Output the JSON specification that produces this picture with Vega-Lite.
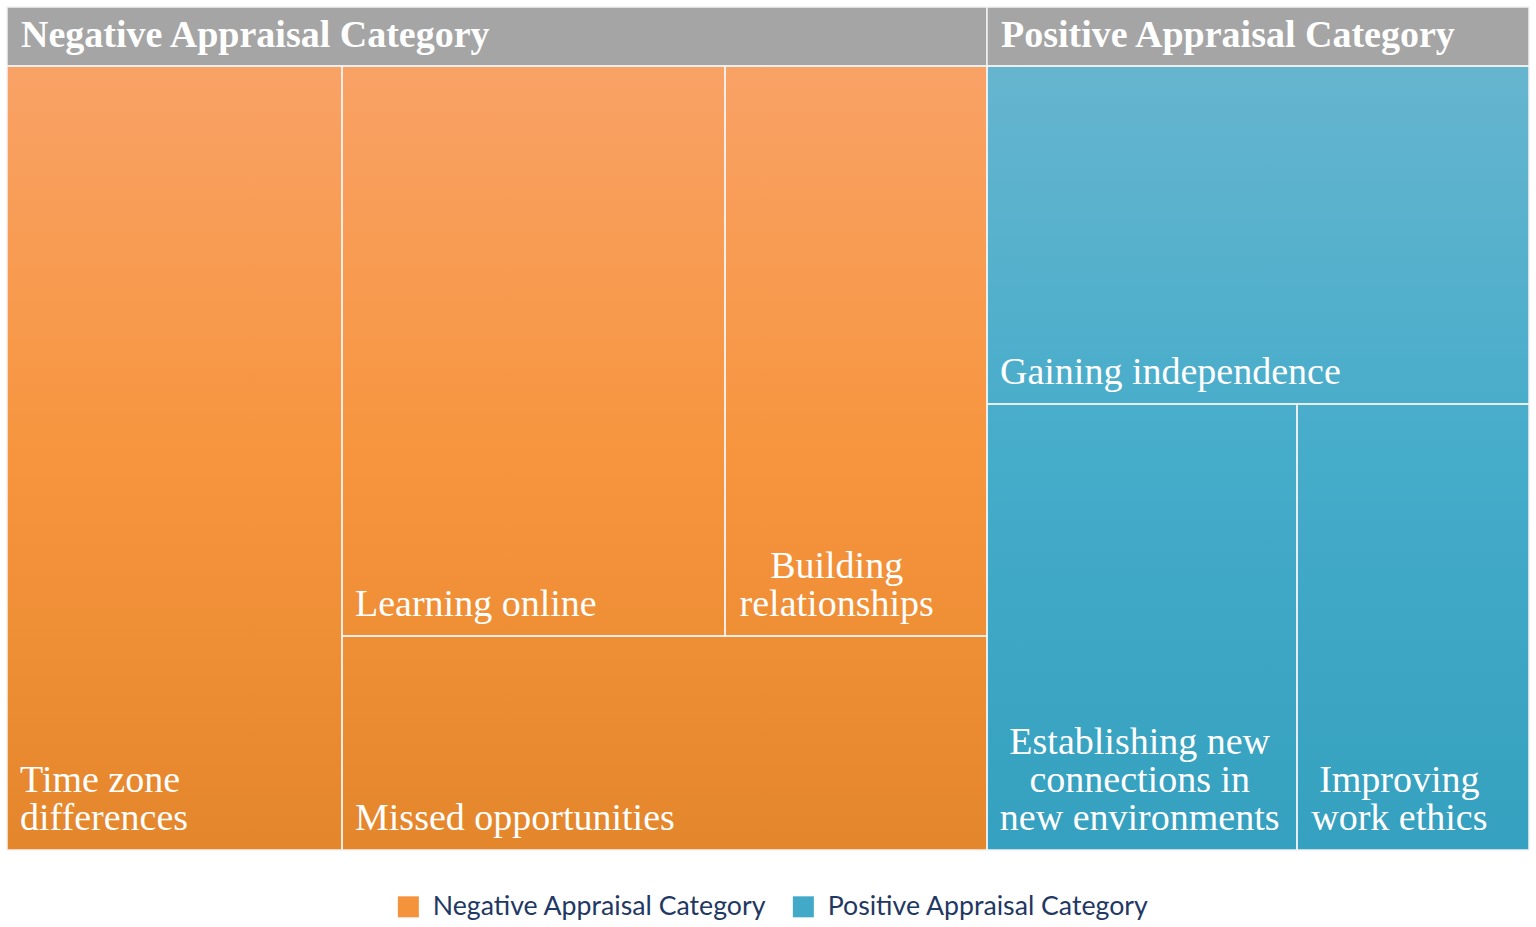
{
  "$schema": "https://vega.github.io/schema/vega-lite/v6.json",
  "width": 1522,
  "height": 843,
  "autosize": {"type": "none"},
  "padding": {"left": 7, "top": 7, "right": 7, "bottom": 77},
  "background": "white",
  "config": {"view": {"stroke": null}},
  "datasets": {
    "cells": [
      {"category": "Negative Appraisal Category", "label": "Time zone\ndifferences", "x0": 0, "x1": 335, "y0": 59, "y1": 843},
      {"category": "Negative Appraisal Category", "label": "Learning online", "x0": 335, "x1": 718, "y0": 59, "y1": 629},
      {"category": "Negative Appraisal Category", "label": "Building\nrelationships", "x0": 718, "x1": 980, "y0": 59, "y1": 629},
      {"category": "Negative Appraisal Category", "label": "Missed opportunities", "x0": 335, "x1": 980, "y0": 629, "y1": 843},
      {"category": "Positive Appraisal Category", "label": "Gaining independence", "x0": 980, "x1": 1522, "y0": 59, "y1": 397},
      {"category": "Positive Appraisal Category", "label": "Establishing new\nconnections in\nnew environments", "x0": 980, "x1": 1290, "y0": 397, "y1": 843},
      {"category": "Positive Appraisal Category", "label": "Improving\nwork ethics", "x0": 1290, "x1": 1522, "y0": 397, "y1": 843}
    ],
    "groups": [
      {"category": "Negative Appraisal Category", "x0": 0, "x1": 980, "y0": 0, "y1": 59},
      {"category": "Positive Appraisal Category", "x0": 980, "x1": 1522, "y0": 0, "y1": 59}
    ]
  },
  "layer": [
    {
      "data": {"name": "cells"},
      "transform": [
        {"filter": "datum.category === 'Negative Appraisal Category'"},
        {"aggregate": [
          {"op": "min", "field": "x0", "as": "bx0"},
          {"op": "max", "field": "x1", "as": "bx1"},
          {"op": "min", "field": "y0", "as": "by0"},
          {"op": "max", "field": "y1", "as": "by1"}
        ], "groupby": ["category"]}
      ],
      "mark": {"type": "rect", "fill": {"gradient": "linear", "x1": 0, "y1": 0, "x2": 0, "y2": 1, "stops": [
        {"offset": 0, "color": "#F9A266"},
        {"offset": 0.5, "color": "#F7953E"},
        {"offset": 1, "color": "#E4862B"}
      ]}},
      "encoding": {
        "x": {"field": "bx0", "type": "quantitative", "scale": {"domain": [0, 1522], "nice": false, "zero": false}, "axis": null},
        "x2": {"field": "bx1"},
        "y": {"field": "by0", "type": "quantitative", "scale": {"domain": [0, 843], "nice": false, "zero": false, "reverse": true}, "axis": null},
        "y2": {"field": "by1"}
      }
    },
    {
      "data": {"name": "cells"},
      "transform": [
        {"filter": "datum.category === 'Positive Appraisal Category'"},
        {"aggregate": [
          {"op": "min", "field": "x0", "as": "bx0"},
          {"op": "max", "field": "x1", "as": "bx1"},
          {"op": "min", "field": "y0", "as": "by0"},
          {"op": "max", "field": "y1", "as": "by1"}
        ], "groupby": ["category"]}
      ],
      "mark": {"type": "rect", "fill": {"gradient": "linear", "x1": 0, "y1": 0, "x2": 0, "y2": 1, "stops": [
        {"offset": 0, "color": "#66B5CF"},
        {"offset": 0.5, "color": "#45ACCA"},
        {"offset": 1, "color": "#35A0BF"}
      ]}},
      "encoding": {
        "x": {"field": "bx0", "type": "quantitative", "scale": {"domain": [0, 1522], "nice": false, "zero": false}, "axis": null},
        "x2": {"field": "bx1"},
        "y": {"field": "by0", "type": "quantitative", "scale": {"domain": [0, 843], "nice": false, "zero": false, "reverse": true}, "axis": null},
        "y2": {"field": "by1"}
      }
    },
    {
      "data": {"name": "groups"},
      "mark": {"type": "rect", "fill": "#A5A5A5", "stroke": "#F2F2F2", "strokeWidth": 1.5},
      "encoding": {
        "x": {"field": "x0", "type": "quantitative", "scale": {"domain": [0, 1522], "nice": false, "zero": false}, "axis": null},
        "x2": {"field": "x1"},
        "y": {"field": "y0", "type": "quantitative", "scale": {"domain": [0, 843], "nice": false, "zero": false, "reverse": true}, "axis": null},
        "y2": {"field": "y1"}
      }
    },
    {
      "data": {"name": "cells"},
      "mark": {"type": "rect", "fillOpacity": 0, "stroke": "#F2F2F2", "strokeWidth": 1.5},
      "encoding": {
        "x": {"field": "x0", "type": "quantitative", "scale": {"domain": [0, 1522], "nice": false, "zero": false}, "axis": null},
        "x2": {"field": "x1"},
        "y": {"field": "y0", "type": "quantitative", "scale": {"domain": [0, 843], "nice": false, "zero": false, "reverse": true}, "axis": null},
        "y2": {"field": "y1"},
        "color": {
          "field": "category",
          "type": "nominal",
          "scale": {"domain": ["Negative Appraisal Category", "Positive Appraisal Category"], "range": ["#F5933D", "#42AAC8"]},
          "legend": {
            "orient": "none",
            "legendX": 388,
            "legendY": 886,
            "direction": "horizontal",
            "title": null,
            "padding": 0,
            "symbolType": "square",
            "symbolSize": 441,
            "symbolStrokeWidth": 0,
            "symbolOpacity": 1,
            "labelFont": "Lato",
            "labelFontSize": 26.7,
            "labelColor": "#1F3864",
            "labelOffset": 11,
            "labelLimit": 500,
            "columnPadding": 23,
            "encode": {"symbols": {"update": {"fillOpacity": {"value": 1}, "opacity": {"value": 1}, "stroke": {"value": "transparent"}}}}
          }
        }
      }
    },
    {
      "data": {"name": "groups"},
      "mark": {"type": "text", "font": "Liberation Serif", "fontSize": 38, "fontWeight": "bold", "fill": "white", "align": "left", "baseline": "alphabetic", "dx": 14, "dy": -19},
      "encoding": {
        "x": {"field": "x0", "type": "quantitative", "scale": {"domain": [0, 1522], "nice": false, "zero": false}, "axis": null},
        "y": {"field": "y1", "type": "quantitative", "scale": {"domain": [0, 843], "nice": false, "zero": false, "reverse": true}, "axis": null},
        "text": {"field": "category"}
      }
    },
    {
      "data": {"name": "cells"},
      "transform": [
        {"filter": {"field": "label", "oneOf": ["Time zone\ndifferences", "Learning online", "Missed opportunities", "Gaining independence"]}},
        {"calculate": "datum.y1 - 38 * (length(split(datum.label, '\\n')) - 1)", "as": "ty"}
      ],
      "mark": {"type": "text", "font": "Liberation Serif", "fontSize": 38, "fill": "white", "align": "left", "baseline": "alphabetic", "lineBreak": "\n", "lineHeight": 38, "dx": 13, "dy": -20},
      "encoding": {
        "x": {"field": "x0", "type": "quantitative", "scale": {"domain": [0, 1522], "nice": false, "zero": false}, "axis": null},
        "y": {"field": "ty", "type": "quantitative", "scale": {"domain": [0, 843], "nice": false, "zero": false, "reverse": true}, "axis": null},
        "text": {"field": "label"}
      }
    },
    {
      "data": {"name": "cells"},
      "transform": [
        {"filter": {"field": "label", "oneOf": ["Building\nrelationships", "Establishing new\nconnections in\nnew environments", "Improving\nwork ethics"]}},
        {"calculate": "split(datum.label, '\\n')[0] || ''", "as": "l0"},
        {"calculate": "split(datum.label, '\\n')[1] || ''", "as": "l1"},
        {"calculate": "split(datum.label, '\\n')[2] || ''", "as": "l2"},
        {"calculate": "0.48 * length(datum.l0) - 0.22 * length(replace(datum.l0, regexp('[^ iltfjrI]', 'g'), '')) + 0.25 * length(replace(datum.l0, regexp('[^mwMW]', 'g'), ''))", "as": "w0"},
        {"calculate": "0.48 * length(datum.l1) - 0.22 * length(replace(datum.l1, regexp('[^ iltfjrI]', 'g'), '')) + 0.25 * length(replace(datum.l1, regexp('[^mwMW]', 'g'), ''))", "as": "w1"},
        {"calculate": "0.48 * length(datum.l2) - 0.22 * length(replace(datum.l2, regexp('[^ iltfjrI]', 'g'), '')) + 0.25 * length(replace(datum.l2, regexp('[^mwMW]', 'g'), ''))", "as": "w2"},
        {"calculate": "datum.x0 + 14 + 19 * max(datum.w0, datum.w1, datum.w2)", "as": "cx"},
        {"calculate": "datum.y1 - 38 * (length(split(datum.label, '\\n')) - 1)", "as": "ty"}
      ],
      "mark": {"type": "text", "font": "Liberation Serif", "fontSize": 38, "fill": "white", "align": "center", "baseline": "alphabetic", "lineBreak": "\n", "lineHeight": 38, "dy": -20},
      "encoding": {
        "x": {"field": "cx", "type": "quantitative", "scale": {"domain": [0, 1522], "nice": false, "zero": false}, "axis": null},
        "y": {"field": "ty", "type": "quantitative", "scale": {"domain": [0, 843], "nice": false, "zero": false, "reverse": true}, "axis": null},
        "text": {"field": "label"}
      }
    }
  ]
}
